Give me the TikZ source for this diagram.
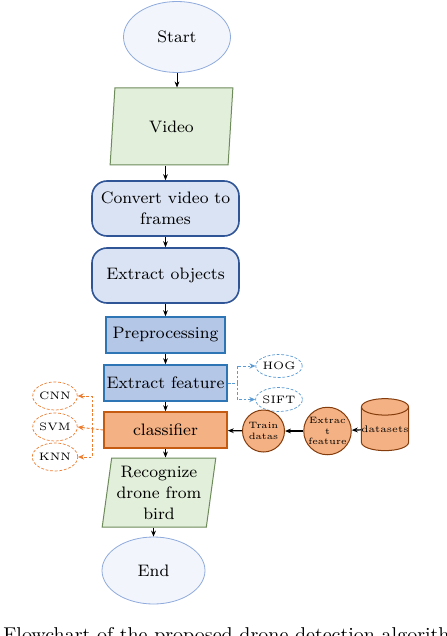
\documentclass[tikz,border=0pt]{standalone}
\usetikzlibrary{shapes.geometric, arrows.meta}
\definecolor{termfill}{HTML}{F2F6FC}
\definecolor{termline}{HTML}{8FAADC}
\definecolor{iofill}{HTML}{E2EFDA}
\definecolor{ioline}{HTML}{6D8B5B}
\definecolor{procfill}{HTML}{DAE3F3}
\definecolor{procline}{HTML}{2F5597}
\definecolor{stepfill}{HTML}{B4C7E7}
\definecolor{stepline}{HTML}{2E75B6}
\definecolor{clsfill}{HTML}{F4B183}
\definecolor{clsline}{HTML}{C55A11}
\definecolor{dataline}{HTML}{843C0C}
\definecolor{bluedash}{HTML}{5B9BD5}
\definecolor{orangedash}{HTML}{ED7D31}
\begin{document}
\begin{tikzpicture}[x=0.5pt, y=-0.5pt,
  font=\fontsize{8.3}{10.5}\selectfont,
  terminal/.style={draw=termline, line width=0.4pt, fill=termfill, ellipse, inner sep=0pt},
  iobox/.style={draw=ioline, line width=0.5pt, fill=iofill, trapezium, trapezium stretches=true, trapezium left angle=81, trapezium right angle=99, align=center, inner sep=0pt},
  procbox/.style={draw=procline, line width=0.8pt, fill=procfill, rounded corners=7.5pt, minimum width=73.5pt, minimum height=27.5pt, align=center, inner sep=0pt},
  stepbox/.style={draw=stepline, line width=0.8pt, fill=stepfill, minimum height=18pt, inner sep=0pt},
  finedash/.style={dash pattern=on 1.4pt off 0.9pt},
  tool/.style={draw, finedash, line width=0.35pt, fill=white, ellipse, minimum width=20pt, inner sep=0pt, font=\fontsize{5.4}{6}\selectfont},
  disc/.style={draw=dataline, line width=0.5pt, fill=clsfill, circle, minimum size=21pt, inner sep=0pt, align=center, font=\fontsize{4.6}{5.4}\selectfont},
  flow/.style={-{Stealth[length=3pt, width=2.4pt]}, line width=0.4pt},
  side/.style={-{Stealth[length=3pt, width=2.6pt]}, finedash, line width=0.45pt}]
  \useasboundingbox (0,0) rectangle (446,636);
  \clip (0,0) rectangle (446,636);

  % main chain
  \node[terminal, minimum width=53.5pt, minimum height=35.5pt] (start) at (177,37) {Start};
  \node[iobox, minimum width=61.5pt, minimum height=38.5pt] (video) at (171.5,126.5) {Video};
  \node[procbox] (conv) at (165.5,208.5) {Convert video to\\frames};
  \node[procbox] (objs) at (165.5,275.5) {Extract objects};
  \node[stepbox, minimum width=59.5pt] (prep) at (165.5,335) {Preprocessing};
  \node[stepbox, minimum width=61.5pt] (feat) at (165.5,383) {Extract feature};
  \node[stepbox, minimum width=61.5pt, draw=clsline, fill=clsfill] (cls) at (165.5,430) {classifier};
  \node[iobox, minimum width=57pt, minimum height=34.5pt] (recog) at (159,492.5) {Recognize\\drone from\\bird};
  \node[terminal, minimum width=51.5pt, minimum height=33.5pt] (end) at (153.5,570.5) {End};

  % features and classifiers
  \node[tool, draw=bluedash, minimum height=11.5pt] (hog) at (279,366) {HOG};
  \node[tool, draw=bluedash, minimum height=12pt] (sift) at (279,399.5) {SIFT};
  \node[tool, draw=orangedash, minimum height=14pt] (cnn) at (55,396) {CNN};
  \node[tool, draw=orangedash, minimum height=14pt] (svm) at (55,427) {SVM};
  \node[tool, draw=orangedash, minimum height=14pt] (knn) at (55,457) {KNN};
  \coordinate (rsplit) at (237,383);
  \coordinate (lsplit) at (92,430);

  % training side
  \node[disc] (train) at (263.5,431) {Train\\datas};
  \node[disc] (extr) at (327.5,431) {Extrac\\t\\feature};
  \node[draw=dataline, line width=0.5pt, fill=clsfill, cylinder, shape border rotate=90, aspect=0.35, minimum width=22pt, minimum height=26pt, inner sep=0pt, font=\fontsize{4.8}{5.6}\selectfont] (data) at (385,429) {datasets};

  \draw[flow] (start) -- (start |- video.north);
  \draw[flow] (conv.north |- video.south) -- (conv.north);
  \draw[flow] (conv) -- (objs);
  \draw[flow] (objs) -- (prep);
  \draw[flow] (prep) -- (feat);
  \draw[flow] (feat) -- (cls);
  \draw[flow] (cls.south) -- (cls.south |- recog.north);
  \draw[flow] (end.north |- recog.south) -- (end.north);

  \draw[side, bluedash, -] (feat.east) -- (rsplit);
  \draw[side, bluedash] (rsplit) |- (hog.west);
  \draw[side, bluedash] (rsplit) |- (sift.west);
  \draw[side, orangedash] (cls.west) -- (svm.east);
  \draw[side, orangedash] (lsplit) |- (cnn.east);
  \draw[side, orangedash] (lsplit) |- (knn.east);

  \draw[flow, line width=0.6pt] (data) -- (extr);
  \draw[flow, line width=0.6pt] (extr) -- (train);
  \draw[flow, line width=0.6pt] (train) -- (cls);

  \node[anchor=base west, inner sep=0pt, font=\fontsize{10}{12}\selectfont] (caption) at (3,641) {Flowchart of the proposed drone detection algorithm};
\end{tikzpicture}
\end{document}
